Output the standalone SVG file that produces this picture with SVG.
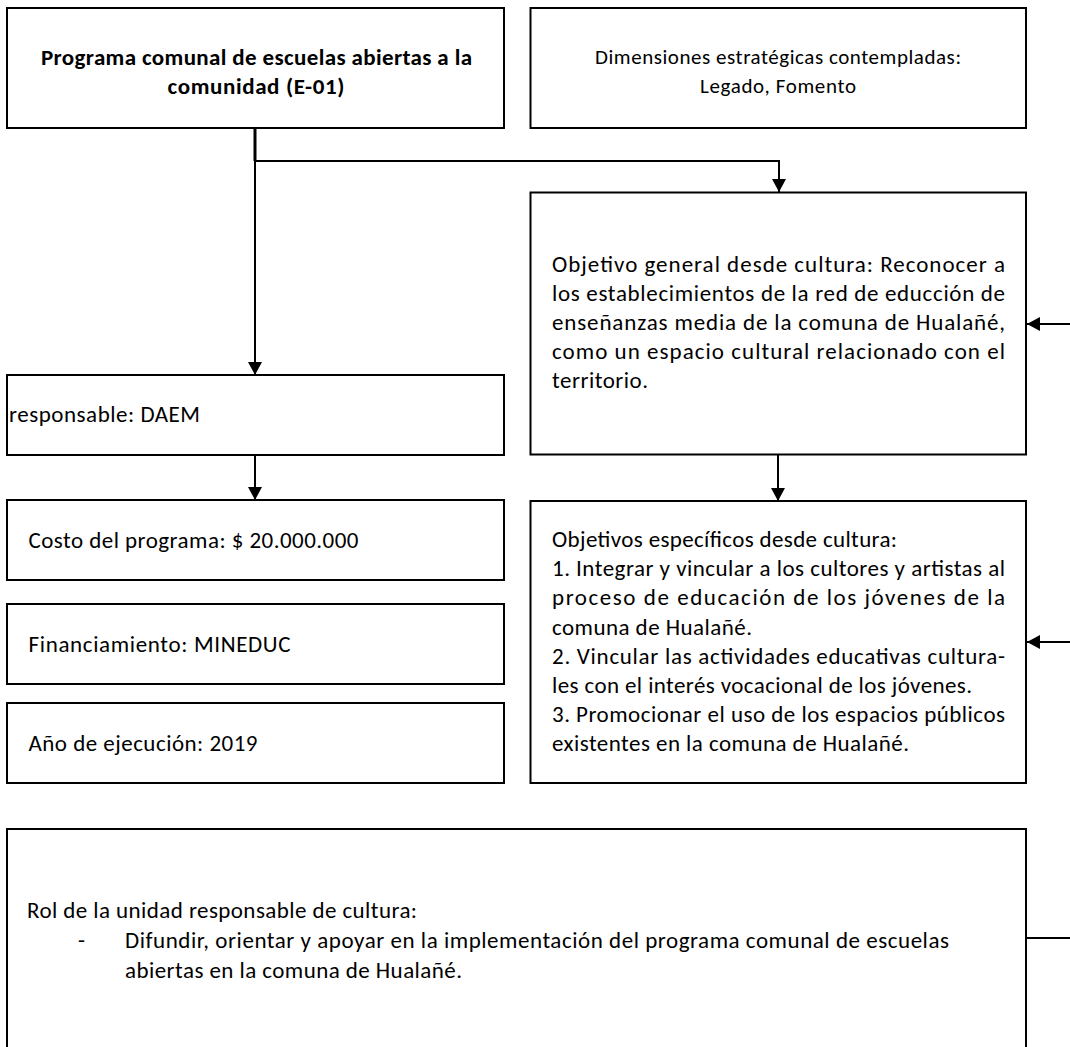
<svg xmlns="http://www.w3.org/2000/svg" width="1070" height="1047" viewBox="0 0 1070 1047">
<defs>
<style>
.box{fill:#fff;stroke:#000;stroke-width:2}
.t{font-family:Carlito,Lato,"Liberation Sans",sans-serif;font-size:23px;fill:#000}
.s{font-size:21px}
.b{font-weight:bold}
.c{fill:none;stroke:#000;stroke-width:2}
</style>
<marker id="ah" viewBox="0 0 13 14" refX="13" refY="7" markerWidth="13" markerHeight="14" markerUnits="userSpaceOnUse" orient="auto">
<path d="M0,0 L13,7 L0,14 z" fill="#000"/>
</marker>
</defs>
<rect width="1070" height="1047" fill="#fff"/>

<g id="connectors">
<path class="c" d="M255,128 V161" style="stroke-width:3"/>
<path class="c" d="M255,161 H779 V192" marker-end="url(#ah)"/>
<path class="c" d="M255,161 V375" marker-end="url(#ah)"/>
<path class="c" d="M255,455 V500" marker-end="url(#ah)"/>
<path class="c" d="M778,455 V501" marker-end="url(#ah)"/>
<path class="c" d="M1070,324 H1027" marker-end="url(#ah)"/>
<path class="c" d="M1070,642 H1027" marker-end="url(#ah)"/>
<path class="c" d="M1026,938 H1070"/>
</g>

<g id="programa">
<rect class="box" x="7" y="8" width="497" height="120"/>
<text class="t b" x="41" y="65" textLength="431" lengthAdjust="spacing">Programa comunal de escuelas abiertas a la</text>
<text class="t b" x="167.5" y="94" textLength="177" lengthAdjust="spacing">comunidad (E-01)</text>
</g>

<g id="dimensiones">
<rect class="box" x="530.5" y="8" width="495.5" height="120"/>
<text class="t s" x="595" y="64" textLength="366" lengthAdjust="spacing">Dimensiones estratégicas contempladas:</text>
<text class="t s" x="700" y="93" textLength="156" lengthAdjust="spacing">Legado, Fomento</text>
</g>

<g id="objetivo-general">
<rect class="box" x="530.5" y="192.5" width="495.5" height="262"/>
<text class="t" x="552" y="271.5" textLength="453" lengthAdjust="spacing">Objetivo general desde cultura: Reconocer a</text>
<text class="t" x="552" y="300.7" textLength="453" lengthAdjust="spacing">los establecimientos de la red de  educción de</text>
<text class="t" x="552" y="329.9" textLength="453" lengthAdjust="spacing">enseñanzas media  de  la comuna de Hualañé,</text>
<text class="t" x="552" y="359.1" textLength="453" lengthAdjust="spacing">como un espacio cultural relacionado con el</text>
<text class="t" x="552" y="388.3" textLength="96" lengthAdjust="spacing">territorio.</text>
</g>

<g id="responsable">
<rect class="box" x="7" y="375" width="497" height="80"/>
<text class="t" x="9" y="422" textLength="191" lengthAdjust="spacing">responsable: DAEM</text>
</g>

<g id="costo">
<rect class="box" x="7" y="500" width="497" height="80"/>
<text class="t" x="28.5" y="548" textLength="330" lengthAdjust="spacing">Costo del programa: $ 20.000.000</text>
</g>

<g id="financiamiento">
<rect class="box" x="7" y="604" width="497" height="80"/>
<text class="t" x="28.5" y="652" textLength="262" lengthAdjust="spacing">Financiamiento: MINEDUC</text>
</g>

<g id="anio">
<rect class="box" x="7" y="703" width="497" height="80"/>
<text class="t" x="28.5" y="751" textLength="229" lengthAdjust="spacing">Año de ejecución: 2019</text>
</g>

<g id="objetivos-especificos">
<rect class="box" x="530.5" y="501" width="495.5" height="282"/>
<text class="t" x="552" y="547" textLength="345" lengthAdjust="spacing">Objetivos específicos desde cultura:</text>
<text class="t" x="552" y="576.2" textLength="453" lengthAdjust="spacing">1. Integrar y vincular a los cultores y artistas al</text>
<text class="t" x="552" y="605.4" textLength="453" lengthAdjust="spacing">proceso de educación de los jóvenes de la</text>
<text class="t" x="552" y="634.6" textLength="200" lengthAdjust="spacing">comuna de Hualañé.</text>
<text class="t" x="552" y="663.8" textLength="453" lengthAdjust="spacing">2. Vincular las actividades educativas cultura-</text>
<text class="t" x="552" y="693" textLength="420" lengthAdjust="spacing">les con el interés vocacional de los jóvenes.</text>
<text class="t" x="552" y="722.2" textLength="453" lengthAdjust="spacing">3. Promocionar el uso de los espacios públicos</text>
<text class="t" x="552" y="751.4" textLength="357" lengthAdjust="spacing">existentes en la comuna de Hualañé.</text>
</g>

<g id="rol">
<rect class="box" x="7" y="829" width="1019" height="240"/>
<text class="t" x="27" y="918" textLength="390" lengthAdjust="spacing">Rol de la unidad responsable de cultura:</text>
<text class="t" x="78" y="948">-</text>
<text class="t" x="125" y="948" textLength="824" lengthAdjust="spacing">Difundir, orientar y apoyar  en la implementación del programa comunal de escuelas</text>
<text class="t" x="125" y="978" textLength="337" lengthAdjust="spacing">abiertas en la comuna de Hualañé.</text>
</g>
</svg>
